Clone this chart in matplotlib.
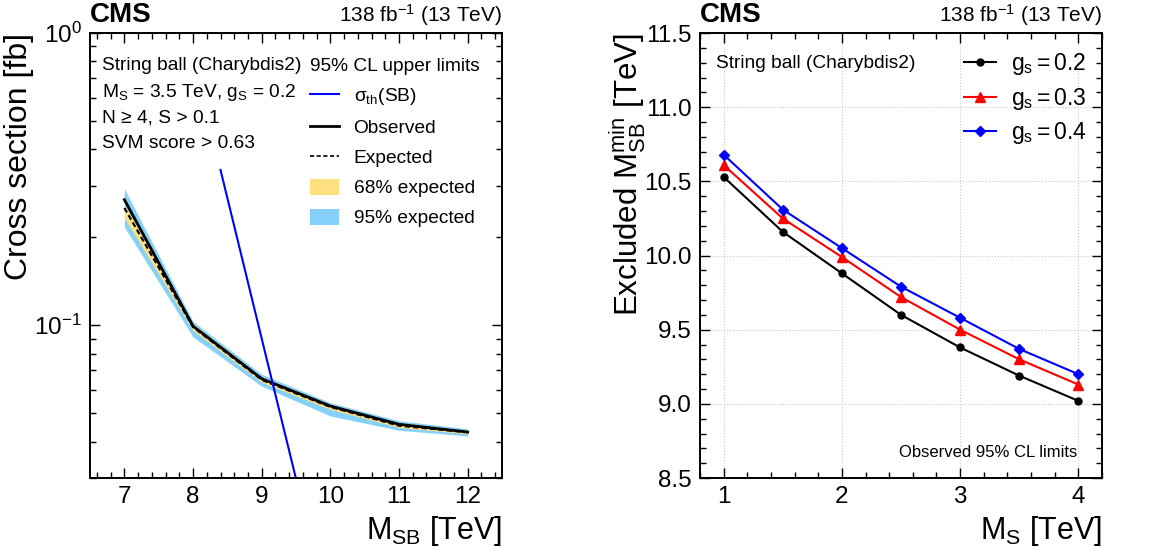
import numpy as np
import matplotlib
matplotlib.use("Agg")
import matplotlib.pyplot as plt
from matplotlib.ticker import MultipleLocator, LogLocator, NullFormatter, FormatStrFormatter
from matplotlib.lines import Line2D
from matplotlib.patches import Patch

plt.rcParams["font.family"] = ["Liberation Sans", "DejaVu Sans"]
plt.rcParams["mathtext.fontset"] = "custom"
plt.rcParams["mathtext.rm"] = "Liberation Sans"
plt.rcParams["mathtext.it"] = "Liberation Sans:italic"
plt.rcParams["mathtext.bf"] = "Liberation Sans:bold"
plt.rcParams["mathtext.default"] = "regular"
plt.rcParams["axes.linewidth"] = 1.4

# Left panel: cross section limits vs string ball mass
masses = [7, 8, 9, 10, 11, 12]
observed = [0.269, 0.0993, 0.0656, 0.0529, 0.0458, 0.0431]
expected = [0.252, 0.0985, 0.0650, 0.0525, 0.0453, 0.0430]
exp68_lo = [0.233, 0.0960, 0.0638, 0.0515, 0.0447, 0.0425]
exp68_hi = [0.258, 0.1010, 0.0664, 0.0536, 0.0462, 0.0436]
exp95_lo = [0.217, 0.0912, 0.0619, 0.0489, 0.0437, 0.0418]
exp95_hi = [0.293, 0.1030, 0.0679, 0.0543, 0.0471, 0.0442]
theory_mass = [8.4, 9.0, 9.5]
theory_xsec = [0.34, 0.090, 0.0298]

# Right panel: excluded minimum mass vs string scale
ms = [1, 1.5, 2, 2.5, 3, 3.5, 4]
gs02 = [10.53, 10.16, 9.88, 9.60, 9.38, 9.19, 9.02]
gs03 = [10.61, 10.25, 9.99, 9.72, 9.50, 9.30, 9.13]
gs04 = [10.68, 10.31, 10.05, 9.79, 9.58, 9.37, 9.20]

c68 = "#FFDF7F"
c95 = "#85D1FB"

fig = plt.figure(figsize=(11.68, 5.5), dpi=100)
ax1 = fig.add_axes([0.0771, 0.1309, 0.3527, 0.809])
ax2 = fig.add_axes([0.5993, 0.1309, 0.3442, 0.809])

# ---- left panel
ax1.fill_between(masses, exp95_lo, exp95_hi, color=c95, lw=0)
ax1.fill_between(masses, exp68_lo, exp68_hi, color=c68, lw=0)
ax1.plot(masses, expected, color="black", lw=1.5, ls=(0, (2.5, 1.5)))
ax1.plot(masses, observed, color="black", lw=2)
ax1.plot(theory_mass, theory_xsec, color="#0000ff", lw=1.5)

ax1.set_yscale("log")
ax1.set_xlim(6.5, 12.5)
ax1.set_ylim(0.03, 1)
ax1.xaxis.set_major_locator(MultipleLocator(1))
ax1.xaxis.set_minor_locator(MultipleLocator(0.2))
ax1.yaxis.set_major_locator(LogLocator(base=10))
ax1.yaxis.set_minor_locator(LogLocator(base=10, subs=np.arange(2, 10)))
ax1.yaxis.set_minor_formatter(NullFormatter())

ax1.set_ylabel("Cross section [fb]", fontsize=23, loc="top")
ax1.yaxis.set_label_coords(-0.135, 1.0)
ax1.set_xlabel("M$_{SB}$ [TeV]", fontsize=22, loc="right", labelpad=4)

ax1.text(0.028, 0.917, "String ball (Charybdis2)", transform=ax1.transAxes, fontsize=13.8)
ax1.text(0.028, 0.856, "M$_{S}$ = 3.5 TeV, g$_{S}$ = 0.2", transform=ax1.transAxes, fontsize=13.8)
ax1.text(0.028, 0.800, "N \u2265 4, S > 0.1", transform=ax1.transAxes, fontsize=13.8)
ax1.text(0.028, 0.742, "SVM score > 0.63", transform=ax1.transAxes, fontsize=13.8)

handles = [
    Line2D([], [], color="#0000ff", lw=1.5),
    Line2D([], [], color="black", lw=2),
    Line2D([], [], color="black", lw=1.2, ls=(0, (2.5, 1.5))),
    Patch(facecolor=c68, edgecolor="none"),
    Patch(facecolor=c95, edgecolor="none"),
]
labels = ["$\\sigma_{th}$(SB)", "Observed", "Expected", "68% expected", "95% expected"]
leg1 = ax1.legend(handles, labels, loc="upper left", bbox_to_anchor=(0.535, 0.945),
                  frameon=False, fontsize=13.8, title="95% CL upper limits", title_fontsize=13.8,
                  alignment="left", borderpad=0, borderaxespad=0, handlelength=1.5,
                  handletextpad=0.75, labelspacing=0.6, handleheight=0.9)

# ---- right panel
ax2.plot(ms, gs02, color="black", lw=1.5, marker="o", ms=5, label="$g_{s} = 0.2$")
ax2.plot(ms, gs03, color="red", lw=1.5, marker="^", ms=6.5, label="$g_{s} = 0.3$")
ax2.plot(ms, gs04, color="blue", lw=1.5, marker="D", ms=5.5, label="$g_{s} = 0.4$")

ax2.set_xlim(0.8, 4.2)
ax2.set_ylim(8.5, 11.5)
ax2.xaxis.set_major_locator(MultipleLocator(1))
ax2.xaxis.set_minor_locator(MultipleLocator(0.2))
ax2.yaxis.set_major_locator(MultipleLocator(0.5))
ax2.yaxis.set_minor_locator(MultipleLocator(0.1))
ax2.yaxis.set_major_formatter(FormatStrFormatter("%.1f"))
ax2.grid(which="major", color="#c8c8c8", ls=":", lw=0.8)

ax2.set_ylabel("Excluded M$_{SB}^{min}$ [TeV]", fontsize=22.5, loc="top")
ax2.yaxis.set_label_coords(-0.129, 1.0)
ax2.set_xlabel("M$_{S}$ [TeV]", fontsize=22, loc="right", labelpad=4)

ax2.text(0.04, 0.921, "String ball (Charybdis2)", transform=ax2.transAxes, fontsize=13.8)
ax2.text(0.938, 0.047, "Observed 95% CL limits", transform=ax2.transAxes, fontsize=12, ha="right")
ax2.legend(loc="upper right", bbox_to_anchor=(0.962, 0.96), frameon=False, fontsize=16.5,
           borderpad=0, borderaxespad=0, handlelength=1.4, handletextpad=0.65, labelspacing=0.38)

for ax in (ax1, ax2):
    ax.tick_params(which="both", direction="in", top=True, right=True, labelsize=17.5, pad=6)
    ax.tick_params(which="major", length=7.5, width=1)
    ax.tick_params(which="minor", length=4, width=1)
    ax.text(0.0, 1.012, "CMS", transform=ax.transAxes, fontsize=20, fontweight="bold", va="bottom")
    ax.text(1.0, 1.012, "138 fb$^{-1}$ (13 TeV)", transform=ax.transAxes, fontsize=15,
            ha="right", va="bottom")

fig.savefig("out.png", dpi=100)
